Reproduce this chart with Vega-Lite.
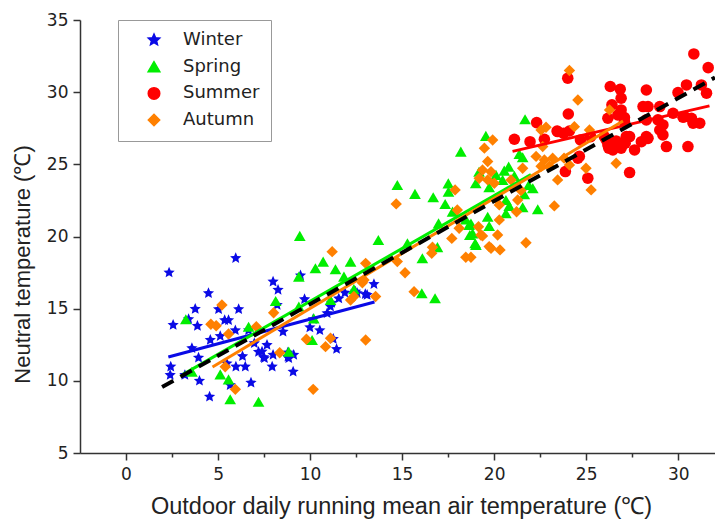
{
  "$schema": "https://vega.github.io/schema/vega-lite/v6.json",
  "width": 635,
  "height": 433,
  "autosize": {"type": "none"},
  "padding": {"left": 80, "top": 20, "right": 0, "bottom": 74},
  "background": "white",
  "config": {
    "view": {"stroke": null},
    "font": "DejaVu Sans",
    "axis": {
      "domainColor": "#333333",
      "domainWidth": 1.5,
      "tickColor": "#333333",
      "tickWidth": 1.5,
      "grid": false,
      "labelFont": "DejaVu Sans",
      "labelFontSize": 17,
      "labelColor": "#222222",
      "titleFont": "Liberation Sans",
      "titleFontWeight": "normal",
      "titleColor": "#222222"
    }
  },
  "datasets": {
    "pts": [
      {"season": "Winter", "t_out": 2.34, "t_n": 17.5},
      {"season": "Winter", "t_out": 2.56, "t_n": 13.87},
      {"season": "Winter", "t_out": 2.43, "t_n": 10.98},
      {"season": "Winter", "t_out": 2.4, "t_n": 10.4},
      {"season": "Winter", "t_out": 3.4, "t_n": 14.27},
      {"season": "Winter", "t_out": 3.58, "t_n": 12.26},
      {"season": "Winter", "t_out": 3.76, "t_n": 14.98},
      {"season": "Winter", "t_out": 3.88, "t_n": 13.8},
      {"season": "Winter", "t_out": 3.94, "t_n": 11.6},
      {"season": "Winter", "t_out": 3.99, "t_n": 10.0},
      {"season": "Winter", "t_out": 3.2, "t_n": 10.4},
      {"season": "Winter", "t_out": 4.48, "t_n": 16.07},
      {"season": "Winter", "t_out": 4.54, "t_n": 8.9},
      {"season": "Winter", "t_out": 4.58, "t_n": 12.83},
      {"season": "Winter", "t_out": 5.03, "t_n": 14.96},
      {"season": "Winter", "t_out": 5.12, "t_n": 13.1},
      {"season": "Winter", "t_out": 5.36, "t_n": 14.2},
      {"season": "Winter", "t_out": 5.57, "t_n": 14.2},
      {"season": "Winter", "t_out": 5.96, "t_n": 18.5},
      {"season": "Winter", "t_out": 6.12, "t_n": 14.96},
      {"season": "Winter", "t_out": 5.94, "t_n": 13.5},
      {"season": "Winter", "t_out": 5.66, "t_n": 9.7},
      {"season": "Winter", "t_out": 5.48, "t_n": 11.2},
      {"season": "Winter", "t_out": 6.33, "t_n": 11.7},
      {"season": "Winter", "t_out": 5.97, "t_n": 10.98},
      {"season": "Winter", "t_out": 6.48, "t_n": 10.98},
      {"season": "Winter", "t_out": 6.79, "t_n": 9.87},
      {"season": "Winter", "t_out": 6.66, "t_n": 13.5},
      {"season": "Winter", "t_out": 6.97, "t_n": 12.6},
      {"season": "Winter", "t_out": 7.2, "t_n": 12.0},
      {"season": "Winter", "t_out": 7.52, "t_n": 11.56},
      {"season": "Winter", "t_out": 7.66, "t_n": 12.48},
      {"season": "Winter", "t_out": 7.94, "t_n": 10.98},
      {"season": "Winter", "t_out": 7.99, "t_n": 11.8},
      {"season": "Winter", "t_out": 7.99, "t_n": 16.87},
      {"season": "Winter", "t_out": 8.26, "t_n": 16.3},
      {"season": "Winter", "t_out": 8.21, "t_n": 15.25},
      {"season": "Winter", "t_out": 8.53, "t_n": 13.4},
      {"season": "Winter", "t_out": 8.79, "t_n": 11.95},
      {"season": "Winter", "t_out": 8.84, "t_n": 11.56},
      {"season": "Winter", "t_out": 9.11, "t_n": 11.8},
      {"season": "Winter", "t_out": 9.08, "t_n": 10.63},
      {"season": "Winter", "t_out": 9.48, "t_n": 17.3},
      {"season": "Winter", "t_out": 9.7, "t_n": 15.65},
      {"season": "Winter", "t_out": 9.99, "t_n": 13.7},
      {"season": "Winter", "t_out": 10.17, "t_n": 14.27},
      {"season": "Winter", "t_out": 10.53, "t_n": 13.5},
      {"season": "Winter", "t_out": 11.26, "t_n": 12.9},
      {"season": "Winter", "t_out": 11.44, "t_n": 12.2},
      {"season": "Winter", "t_out": 11.11, "t_n": 15.14},
      {"season": "Winter", "t_out": 11.17, "t_n": 15.4},
      {"season": "Winter", "t_out": 11.56, "t_n": 15.7},
      {"season": "Winter", "t_out": 11.89, "t_n": 16.1},
      {"season": "Winter", "t_out": 12.47, "t_n": 16.18},
      {"season": "Winter", "t_out": 13.0, "t_n": 16.0},
      {"season": "Winter", "t_out": 10.93, "t_n": 14.68},
      {"season": "Winter", "t_out": 7.39, "t_n": 12.02},
      {"season": "Winter", "t_out": 7.48, "t_n": 11.63},
      {"season": "Winter", "t_out": 8.8, "t_n": 11.67},
      {"season": "Winter", "t_out": 13.47, "t_n": 16.7},
      {"season": "Winter", "t_out": 13.1, "t_n": 15.95},
      {"season": "Winter", "t_out": 12.56, "t_n": 16.07},

      {"season": "Spring", "t_out": 3.25, "t_n": 14.27},
      {"season": "Spring", "t_out": 3.58, "t_n": 10.63},
      {"season": "Spring", "t_out": 5.12, "t_n": 10.45},
      {"season": "Spring", "t_out": 5.66, "t_n": 8.72},
      {"season": "Spring", "t_out": 5.57, "t_n": 10.1},
      {"season": "Spring", "t_out": 7.2, "t_n": 8.55},
      {"season": "Spring", "t_out": 6.66, "t_n": 13.75},
      {"season": "Spring", "t_out": 8.13, "t_n": 15.53},
      {"season": "Spring", "t_out": 9.44, "t_n": 20.04},
      {"season": "Spring", "t_out": 9.39, "t_n": 17.22},
      {"season": "Spring", "t_out": 10.29, "t_n": 17.8},
      {"season": "Spring", "t_out": 10.71, "t_n": 18.26},
      {"season": "Spring", "t_out": 11.38, "t_n": 17.73},
      {"season": "Spring", "t_out": 12.2, "t_n": 18.26},
      {"season": "Spring", "t_out": 11.84, "t_n": 17.22},
      {"season": "Spring", "t_out": 10.11, "t_n": 12.83},
      {"season": "Spring", "t_out": 10.2, "t_n": 14.33},
      {"season": "Spring", "t_out": 11.11, "t_n": 15.6},
      {"season": "Spring", "t_out": 9.39, "t_n": 15.14},
      {"season": "Spring", "t_out": 8.84, "t_n": 12.02},
      {"season": "Spring", "t_out": 12.38, "t_n": 16.35},
      {"season": "Spring", "t_out": 14.74, "t_n": 23.57},
      {"season": "Spring", "t_out": 15.7, "t_n": 22.95},
      {"season": "Spring", "t_out": 16.69, "t_n": 22.72},
      {"season": "Spring", "t_out": 17.51, "t_n": 23.68},
      {"season": "Spring", "t_out": 17.52, "t_n": 23.11},
      {"season": "Spring", "t_out": 17.34, "t_n": 22.25},
      {"season": "Spring", "t_out": 17.74, "t_n": 21.72},
      {"season": "Spring", "t_out": 16.98, "t_n": 20.91},
      {"season": "Spring", "t_out": 13.71, "t_n": 19.76},
      {"season": "Spring", "t_out": 15.29, "t_n": 19.53},
      {"season": "Spring", "t_out": 16.92, "t_n": 19.26},
      {"season": "Spring", "t_out": 16.1, "t_n": 18.49},
      {"season": "Spring", "t_out": 16.07, "t_n": 16.07},
      {"season": "Spring", "t_out": 16.79, "t_n": 15.72},
      {"season": "Spring", "t_out": 18.64, "t_n": 20.8},
      {"season": "Spring", "t_out": 18.68, "t_n": 20.1},
      {"season": "Spring", "t_out": 18.97, "t_n": 19.53},
      {"season": "Spring", "t_out": 21.68, "t_n": 28.12},
      {"season": "Spring", "t_out": 19.55, "t_n": 26.97},
      {"season": "Spring", "t_out": 18.19, "t_n": 25.88},
      {"season": "Spring", "t_out": 21.37, "t_n": 25.72},
      {"season": "Spring", "t_out": 21.55, "t_n": 25.49},
      {"season": "Spring", "t_out": 20.79, "t_n": 24.84},
      {"season": "Spring", "t_out": 20.55, "t_n": 24.56},
      {"season": "Spring", "t_out": 19.18, "t_n": 24.49},
      {"season": "Spring", "t_out": 20.1, "t_n": 24.27},
      {"season": "Spring", "t_out": 21.1, "t_n": 24.2},
      {"season": "Spring", "t_out": 21.88, "t_n": 23.57},
      {"season": "Spring", "t_out": 22.1, "t_n": 23.34},
      {"season": "Spring", "t_out": 19.0, "t_n": 23.69},
      {"season": "Spring", "t_out": 19.73, "t_n": 23.41},
      {"season": "Spring", "t_out": 20.46, "t_n": 23.92},
      {"season": "Spring", "t_out": 21.64, "t_n": 22.93},
      {"season": "Spring", "t_out": 20.64, "t_n": 22.53},
      {"season": "Spring", "t_out": 20.82, "t_n": 22.12},
      {"season": "Spring", "t_out": 21.55, "t_n": 22.03},
      {"season": "Spring", "t_out": 22.37, "t_n": 21.89},
      {"season": "Spring", "t_out": 20.64, "t_n": 21.61},
      {"season": "Spring", "t_out": 19.65, "t_n": 21.37},
      {"season": "Spring", "t_out": 18.74, "t_n": 20.9},
      {"season": "Spring", "t_out": 19.73, "t_n": 20.73},
      {"season": "Spring", "t_out": 18.83, "t_n": 20.22},
      {"season": "Spring", "t_out": 19.01, "t_n": 19.41},
      {"season": "Spring", "t_out": 18.46, "t_n": 21.19},

      {"season": "Summer", "t_out": 22.31, "t_n": 27.89},
      {"season": "Summer", "t_out": 21.1, "t_n": 26.74},
      {"season": "Summer", "t_out": 21.95, "t_n": 26.57},
      {"season": "Summer", "t_out": 22.73, "t_n": 26.74},
      {"season": "Summer", "t_out": 23.45, "t_n": 27.27},
      {"season": "Summer", "t_out": 24.0, "t_n": 30.97},
      {"season": "Summer", "t_out": 26.31, "t_n": 30.39},
      {"season": "Summer", "t_out": 26.85, "t_n": 30.2},
      {"season": "Summer", "t_out": 26.9, "t_n": 29.58},
      {"season": "Summer", "t_out": 26.4, "t_n": 29.12},
      {"season": "Summer", "t_out": 26.9, "t_n": 28.77},
      {"season": "Summer", "t_out": 26.18, "t_n": 28.19},
      {"season": "Summer", "t_out": 26.72, "t_n": 28.42},
      {"season": "Summer", "t_out": 27.08, "t_n": 28.24},
      {"season": "Summer", "t_out": 24.03, "t_n": 28.49},
      {"season": "Summer", "t_out": 23.42, "t_n": 27.31},
      {"season": "Summer", "t_out": 23.78, "t_n": 27.15},
      {"season": "Summer", "t_out": 24.09, "t_n": 27.31},
      {"season": "Summer", "t_out": 24.69, "t_n": 26.69},
      {"season": "Summer", "t_out": 25.24, "t_n": 26.92},
      {"season": "Summer", "t_out": 26.09, "t_n": 26.69},
      {"season": "Summer", "t_out": 26.18, "t_n": 26.34},
      {"season": "Summer", "t_out": 26.63, "t_n": 26.62},
      {"season": "Summer", "t_out": 27.18, "t_n": 26.92},
      {"season": "Summer", "t_out": 26.45, "t_n": 26.0},
      {"season": "Summer", "t_out": 26.9, "t_n": 26.12},
      {"season": "Summer", "t_out": 27.63, "t_n": 26.0},
      {"season": "Summer", "t_out": 24.63, "t_n": 25.55},
      {"season": "Summer", "t_out": 27.36, "t_n": 24.43},
      {"season": "Summer", "t_out": 23.87, "t_n": 24.5},
      {"season": "Summer", "t_out": 25.09, "t_n": 24.04},
      {"season": "Summer", "t_out": 30.85, "t_n": 32.65},
      {"season": "Summer", "t_out": 31.63, "t_n": 31.7},
      {"season": "Summer", "t_out": 28.27, "t_n": 30.15},
      {"season": "Summer", "t_out": 29.99, "t_n": 29.97},
      {"season": "Summer", "t_out": 30.45, "t_n": 30.5},
      {"season": "Summer", "t_out": 31.26, "t_n": 30.5},
      {"season": "Summer", "t_out": 31.54, "t_n": 29.93},
      {"season": "Summer", "t_out": 28.09, "t_n": 29.0},
      {"season": "Summer", "t_out": 28.36, "t_n": 29.0},
      {"season": "Summer", "t_out": 29.0, "t_n": 29.0},
      {"season": "Summer", "t_out": 28.27, "t_n": 28.08},
      {"season": "Summer", "t_out": 28.9, "t_n": 28.08},
      {"season": "Summer", "t_out": 29.72, "t_n": 28.54},
      {"season": "Summer", "t_out": 30.35, "t_n": 28.3},
      {"season": "Summer", "t_out": 30.72, "t_n": 28.19},
      {"season": "Summer", "t_out": 30.81, "t_n": 27.85},
      {"season": "Summer", "t_out": 31.17, "t_n": 27.85},
      {"season": "Summer", "t_out": 29.17, "t_n": 27.73},
      {"season": "Summer", "t_out": 29.0, "t_n": 27.38},
      {"season": "Summer", "t_out": 29.17, "t_n": 27.04},
      {"season": "Summer", "t_out": 29.36, "t_n": 26.23},
      {"season": "Summer", "t_out": 30.53, "t_n": 26.23},
      {"season": "Summer", "t_out": 28.27, "t_n": 26.92},
      {"season": "Summer", "t_out": 28.0, "t_n": 26.57},
      {"season": "Summer", "t_out": 27.36, "t_n": 26.92},
      {"season": "Summer", "t_out": 24.55, "t_n": 25.43},
      {"season": "Summer", "t_out": 26.23, "t_n": 26.12},
      {"season": "Summer", "t_out": 25.99, "t_n": 26.92},
      {"season": "Summer", "t_out": 30.26, "t_n": 28.26},
      {"season": "Summer", "t_out": 28.36, "t_n": 26.8},
      {"season": "Summer", "t_out": 27.08, "t_n": 27.96},
      {"season": "Summer", "t_out": 27.12, "t_n": 26.46},

      {"season": "Autumn", "t_out": 5.21, "t_n": 15.25},
      {"season": "Autumn", "t_out": 4.61, "t_n": 13.92},
      {"season": "Autumn", "t_out": 4.9, "t_n": 13.82},
      {"season": "Autumn", "t_out": 5.57, "t_n": 13.25},
      {"season": "Autumn", "t_out": 7.08, "t_n": 13.75},
      {"season": "Autumn", "t_out": 5.94, "t_n": 9.41},
      {"season": "Autumn", "t_out": 5.39, "t_n": 10.98},
      {"season": "Autumn", "t_out": 8.02, "t_n": 14.72},
      {"season": "Autumn", "t_out": 8.35, "t_n": 11.95},
      {"season": "Autumn", "t_out": 9.8, "t_n": 12.88},
      {"season": "Autumn", "t_out": 10.17, "t_n": 9.41},
      {"season": "Autumn", "t_out": 10.84, "t_n": 12.37},
      {"season": "Autumn", "t_out": 11.2, "t_n": 18.95},
      {"season": "Autumn", "t_out": 11.11, "t_n": 12.95},
      {"season": "Autumn", "t_out": 12.2, "t_n": 15.6},
      {"season": "Autumn", "t_out": 12.38, "t_n": 15.84},
      {"season": "Autumn", "t_out": 13.02, "t_n": 18.14},
      {"season": "Autumn", "t_out": 12.93, "t_n": 16.99},
      {"season": "Autumn", "t_out": 13.02, "t_n": 12.83},
      {"season": "Autumn", "t_out": 17.88, "t_n": 23.23},
      {"season": "Autumn", "t_out": 14.68, "t_n": 22.26},
      {"season": "Autumn", "t_out": 18.1, "t_n": 20.57},
      {"season": "Autumn", "t_out": 17.7, "t_n": 19.87},
      {"season": "Autumn", "t_out": 16.65, "t_n": 19.26},
      {"season": "Autumn", "t_out": 16.61, "t_n": 18.84},
      {"season": "Autumn", "t_out": 18.46, "t_n": 18.56},
      {"season": "Autumn", "t_out": 18.74, "t_n": 18.56},
      {"season": "Autumn", "t_out": 14.74, "t_n": 18.26},
      {"season": "Autumn", "t_out": 15.16, "t_n": 17.49},
      {"season": "Autumn", "t_out": 15.65, "t_n": 16.18},
      {"season": "Autumn", "t_out": 13.56, "t_n": 15.84},
      {"season": "Autumn", "t_out": 12.84, "t_n": 16.8},
      {"season": "Autumn", "t_out": 19.83, "t_n": 19.19},
      {"season": "Autumn", "t_out": 20.32, "t_n": 19.07},
      {"season": "Autumn", "t_out": 20.19, "t_n": 20.1},
      {"season": "Autumn", "t_out": 19.37, "t_n": 20.04},
      {"season": "Autumn", "t_out": 21.73, "t_n": 19.57},
      {"season": "Autumn", "t_out": 22.55, "t_n": 27.38},
      {"season": "Autumn", "t_out": 19.92, "t_n": 26.69},
      {"season": "Autumn", "t_out": 19.47, "t_n": 26.12},
      {"season": "Autumn", "t_out": 19.65, "t_n": 25.2},
      {"season": "Autumn", "t_out": 19.37, "t_n": 24.61},
      {"season": "Autumn", "t_out": 19.83, "t_n": 24.49},
      {"season": "Autumn", "t_out": 19.19, "t_n": 24.04},
      {"season": "Autumn", "t_out": 19.65, "t_n": 23.92},
      {"season": "Autumn", "t_out": 20.01, "t_n": 23.69},
      {"season": "Autumn", "t_out": 20.92, "t_n": 23.92},
      {"season": "Autumn", "t_out": 21.55, "t_n": 24.73},
      {"season": "Autumn", "t_out": 22.28, "t_n": 25.55},
      {"season": "Autumn", "t_out": 22.73, "t_n": 25.3},
      {"season": "Autumn", "t_out": 23.18, "t_n": 25.42},
      {"season": "Autumn", "t_out": 22.55, "t_n": 24.87},
      {"season": "Autumn", "t_out": 23.0, "t_n": 24.87},
      {"season": "Autumn", "t_out": 23.45, "t_n": 23.92},
      {"season": "Autumn", "t_out": 21.46, "t_n": 23.18},
      {"season": "Autumn", "t_out": 20.1, "t_n": 22.64},
      {"season": "Autumn", "t_out": 21.28, "t_n": 22.53},
      {"season": "Autumn", "t_out": 20.28, "t_n": 22.19},
      {"season": "Autumn", "t_out": 21.22, "t_n": 21.72},
      {"season": "Autumn", "t_out": 23.27, "t_n": 22.12},
      {"season": "Autumn", "t_out": 19.15, "t_n": 20.68},
      {"season": "Autumn", "t_out": 19.28, "t_n": 20.1},
      {"season": "Autumn", "t_out": 20.28, "t_n": 21.15},
      {"season": "Autumn", "t_out": 19.73, "t_n": 19.3},
      {"season": "Autumn", "t_out": 18.0, "t_n": 21.84},
      {"season": "Autumn", "t_out": 24.09, "t_n": 31.5},
      {"season": "Autumn", "t_out": 24.55, "t_n": 29.46},
      {"season": "Autumn", "t_out": 22.64, "t_n": 26.23},
      {"season": "Autumn", "t_out": 24.36, "t_n": 27.61},
      {"season": "Autumn", "t_out": 25.18, "t_n": 27.38},
      {"season": "Autumn", "t_out": 26.27, "t_n": 28.77},
      {"season": "Autumn", "t_out": 24.09, "t_n": 24.96},
      {"season": "Autumn", "t_out": 24.99, "t_n": 24.73},
      {"season": "Autumn", "t_out": 25.27, "t_n": 23.23},
      {"season": "Autumn", "t_out": 26.63, "t_n": 25.08},
      {"season": "Autumn", "t_out": 22.82, "t_n": 27.57},
      {"season": "Autumn", "t_out": 23.8, "t_n": 25.43}
    ],
    "fits": [
      {"season": "Winter", "t_out": 2.3, "t_n": 11.65},
      {"season": "Winter", "t_out": 13.5, "t_n": 15.46},
      {"season": "Spring", "t_out": 3.1, "t_n": 10.45},
      {"season": "Spring", "t_out": 22.0, "t_n": 24.3},
      {"season": "Summer", "t_out": 21.0, "t_n": 25.9},
      {"season": "Summer", "t_out": 31.7, "t_n": 29.05},
      {"season": "Autumn", "t_out": 4.7, "t_n": 10.96},
      {"season": "Autumn", "t_out": 27.0, "t_n": 28.0}
    ],
    "overall": [
      {"t_out": 1.96, "t_n": 9.57},
      {"t_out": 32.0, "t_n": 31.02}
    ]
  },
  "layer": [
    {
      "data": {"name": "pts"},
      "mark": {"type": "point", "filled": true, "opacity": 1},
      "encoding": {
        "x": {
          "field": "t_out", "type": "quantitative",
          "scale": {"domain": [-2.5, 32], "nice": false, "zero": false},
          "axis": {
            "title": "Outdoor daily running mean air temperature (℃)",
            "titleFontSize": 23.5,
            "values": [0, 2.5, 5, 7.5, 10, 12.5, 15, 17.5, 20, 22.5, 25, 27.5, 30],
            "labelExpr": "datum.value % 5 === 0 ? datum.label : ''",
            "tickSize": {"condition": {"test": "datum.value % 5 === 0", "value": 7}, "value": 4},
            "labelPadding": 6,
            "titlePadding": 12,
            "titleX": 321
          }
        },
        "y": {
          "field": "t_n", "type": "quantitative",
          "scale": {"domain": [5, 35], "nice": false, "zero": false},
          "axis": {
            "title": "Neutral temperature (℃)",
            "titleFontSize": 22,
            "values": [5, 7.5, 10, 12.5, 15, 17.5, 20, 22.5, 25, 27.5, 30, 32.5, 35],
            "labelExpr": "datum.value % 5 === 0 ? datum.label : ''",
            "tickSize": {"condition": {"test": "datum.value % 5 === 0", "value": 7}, "value": 4},
            "labelPadding": 5,
            "titlePadding": 12,
            "titleY": 244
          }
        },
        "color": {
          "field": "season", "type": "nominal",
          "scale": {
            "domain": ["Winter", "Spring", "Summer", "Autumn"],
            "range": ["#0a0ae6", "#00ee00", "#ff0000", "#ff8000"]
          },
          "legend": {
            "title": null,
            "orient": "none",
            "legendX": 38,
            "legendY": 0,
            "labelFont": "DejaVu Sans",
            "labelFontSize": 18,
            "labelColor": "#222222",
            "labelOffset": 20,
            "symbolSize": 75,
            "symbolOffset": 16,
            "rowPadding": 8.7,
            "padding": 11,
            "strokeColor": "#999999",
            "fillColor": "white"
          }
        },
        "shape": {
          "field": "season", "type": "nominal",
          "scale": {
            "domain": ["Winter", "Spring", "Summer", "Autumn"],
            "range": [
              "M0,-1L0.27,-0.37L0.951,-0.309L0.44,0.143L0.588,0.809L0,0.46L-0.588,0.809L-0.44,0.143L-0.951,-0.309L-0.27,-0.37Z",
              "triangle-up", "circle", "diamond"
            ]
          }
        },
        "size": {
          "field": "season", "type": "nominal",
          "scale": {
            "domain": ["Winter", "Spring", "Summer", "Autumn"],
            "range": [140, 130, 95, 150]
          },
          "legend": null
        }
      }
    },
    {
      "data": {"name": "fits"},
      "mark": {"type": "line", "strokeWidth": 3},
      "encoding": {
        "x": {"field": "t_out", "type": "quantitative"},
        "y": {"field": "t_n", "type": "quantitative"},
        "color": {"field": "season", "type": "nominal", "legend": null}
      }
    },
    {
      "data": {"name": "overall"},
      "mark": {"type": "line", "color": "black", "strokeWidth": 4, "strokeDash": [13, 8]},
      "encoding": {
        "x": {"field": "t_out", "type": "quantitative"},
        "y": {"field": "t_n", "type": "quantitative"}
      }
    }
  ]
}
